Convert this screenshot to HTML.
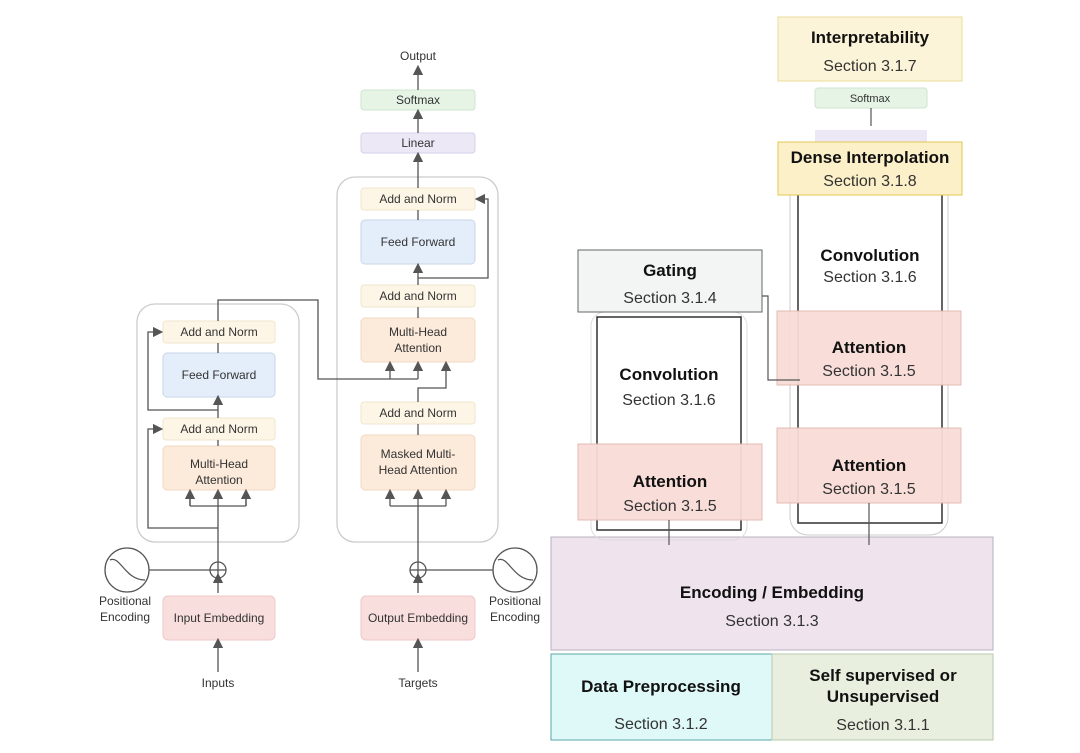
<!DOCTYPE html>
<html><head><meta charset="utf-8"><style>
html,body{margin:0;padding:0;background:#fff;}
svg{display:block;font-family:"Liberation Sans",sans-serif;}
.s{font-size:12px;fill:#333;text-anchor:middle;}
.b{font-size:17px;font-weight:bold;fill:#111;text-anchor:middle;}
.n{font-size:16px;fill:#333;text-anchor:middle;}
</style></head><body>
<svg width="1080" height="753" viewBox="0 0 1080 753">
<defs><marker id="a" markerWidth="8" markerHeight="8" refX="4" refY="4" orient="auto"><path d="M0,0 L8,4 L0,8z" fill="#555"/></marker></defs>
<g stroke="#555" stroke-width="1.3" fill="none">
<!-- encoder container -->
<rect x="137" y="304" width="162" height="238" rx="18" stroke="#ccc"/>
<rect x="337" y="177" width="161" height="365" rx="18" stroke="#ccc"/>
</g>
<!-- encoder boxes -->
<rect x="163" y="321" width="112" height="22" rx="3" fill="#fdf6e6" stroke="#f0e6cc"/>
<rect x="163" y="353" width="112" height="44" rx="4" fill="#e4eefa" stroke="#c9d6ea"/>
<rect x="163" y="418" width="112" height="22" rx="3" fill="#fdf6e6" stroke="#f0e6cc"/>
<rect x="163" y="446" width="112" height="44" rx="4" fill="#fceadb" stroke="#f2d9c2"/>
<rect x="163" y="596" width="112" height="44" rx="5" fill="#f9dede" stroke="#eec8c8"/>
<text class="s" x="219" y="336">Add and Norm</text>
<text class="s" x="219" y="379">Feed Forward</text>
<text class="s" x="219" y="433">Add and Norm</text>
<text class="s" x="219" y="468">Multi-Head</text>
<text class="s" x="219" y="484">Attention</text>
<text class="s" x="219" y="622">Input Embedding</text>
<text class="s" x="125" y="605">Positional</text>
<text class="s" x="125" y="621">Encoding</text>
<text class="s" x="218" y="687">Inputs</text>
<!-- decoder boxes -->
<rect x="361" y="90" width="114" height="20" rx="3" fill="#e6f4e6" stroke="#cfe3cf"/>
<rect x="361" y="133" width="114" height="20" rx="3" fill="#ece8f6" stroke="#d6d0ea"/>
<rect x="361" y="188" width="114" height="22" rx="3" fill="#fdf6e6" stroke="#f0e6cc"/>
<rect x="361" y="220" width="114" height="44" rx="4" fill="#e4eefa" stroke="#c9d6ea"/>
<rect x="361" y="285" width="114" height="22" rx="3" fill="#fdf6e6" stroke="#f0e6cc"/>
<rect x="361" y="318" width="114" height="44" rx="4" fill="#fceadb" stroke="#f2d9c2"/>
<rect x="361" y="402" width="114" height="22" rx="3" fill="#fdf6e6" stroke="#f0e6cc"/>
<rect x="361" y="435" width="114" height="55" rx="4" fill="#fceadb" stroke="#f2d9c2"/>
<rect x="361" y="596" width="114" height="44" rx="5" fill="#f9dede" stroke="#eec8c8"/>
<text class="s" x="418" y="60">Output</text>
<text class="s" x="418" y="104">Softmax</text>
<text class="s" x="418" y="147">Linear</text>
<text class="s" x="418" y="203">Add and Norm</text>
<text class="s" x="418" y="246">Feed Forward</text>
<text class="s" x="418" y="300">Add and Norm</text>
<text class="s" x="418" y="336">Multi-Head</text>
<text class="s" x="418" y="352">Attention</text>
<text class="s" x="418" y="417">Add and Norm</text>
<text class="s" x="418" y="458">Masked Multi-</text>
<text class="s" x="418" y="474">Head Attention</text>
<text class="s" x="418" y="622">Output Embedding</text>
<text class="s" x="515" y="605">Positional</text>
<text class="s" x="515" y="621">Encoding</text>
<text class="s" x="418" y="687">Targets</text>
<g stroke="#555" stroke-width="1.3" fill="none">
<!-- encoder lines -->
<line x1="218" y1="672" x2="218" y2="643" marker-end="url(#a)"/>
<line x1="218" y1="593" x2="218" y2="578" marker-end="url(#a)"/>
<circle cx="218" cy="570" r="8"/><line x1="210" y1="570" x2="226" y2="570"/><line x1="218" y1="562" x2="218" y2="578"/>
<circle cx="127" cy="570" r="22"/><path d="M110,560 C120,555 125,580 145,580"/>
<line x1="149" y1="570" x2="210" y2="570"/>
<line x1="218" y1="562" x2="218" y2="506"/>
<path d="M190,506 H246 M190,506 V494 M246,506 V494" /><line x1="190" y1="506" x2="190" y2="494" marker-end="url(#a)"/><line x1="218" y1="506" x2="218" y2="494" marker-end="url(#a)"/><line x1="246" y1="506" x2="246" y2="494" marker-end="url(#a)"/>
<path d="M218,528 H148 V429 H158" marker-end="url(#a)"/>
<line x1="218" y1="440" x2="218" y2="446"/>
<path d="M218,418 V410" /><line x1="218" y1="410" x2="218" y2="400" marker-end="url(#a)"/>
<path d="M218,410 H148 V332 H158" marker-end="url(#a)"/>
<line x1="218" y1="343" x2="218" y2="353"/>
<path d="M218,321 V300 H318 V379 H418"/>
<line x1="390" y1="379" x2="390" y2="366" marker-end="url(#a)"/>
<line x1="418" y1="379" x2="418" y2="366" marker-end="url(#a)"/>
<!-- decoder lines -->
<line x1="418" y1="672" x2="418" y2="643" marker-end="url(#a)"/>
<line x1="418" y1="593" x2="418" y2="578" marker-end="url(#a)"/>
<circle cx="418" cy="570" r="8"/><line x1="410" y1="570" x2="426" y2="570"/><line x1="418" y1="562" x2="418" y2="578"/>
<circle cx="515" cy="570" r="22"/><path d="M498,560 C508,555 513,580 533,580"/>
<line x1="426" y1="570" x2="493" y2="570"/>
<line x1="418" y1="562" x2="418" y2="506"/>
<path d="M390,506 H446"/><line x1="390" y1="506" x2="390" y2="494" marker-end="url(#a)"/><line x1="418" y1="506" x2="418" y2="494" marker-end="url(#a)"/><line x1="446" y1="506" x2="446" y2="494" marker-end="url(#a)"/>
<line x1="418" y1="424" x2="418" y2="435"/>
<path d="M418,402 V388 H446 V366" marker-end="url(#a)"/>
<line x1="418" y1="307" x2="418" y2="318"/>
<path d="M418,285 V278" /><line x1="418" y1="278" x2="418" y2="268" marker-end="url(#a)"/>
<path d="M418,278 H488 V199 H480" marker-end="url(#a)"/>
<line x1="418" y1="210" x2="418" y2="220"/>
<line x1="418" y1="188" x2="418" y2="157" marker-end="url(#a)"/>
<line x1="418" y1="133" x2="418" y2="114" marker-end="url(#a)"/>
<line x1="418" y1="90" x2="418" y2="70" marker-end="url(#a)"/>
</g>
<!-- right side -->
<rect x="551" y="537" width="442" height="113" fill="#efe3ee" stroke="#b9b0c0"/>
<rect x="551" y="654" width="221" height="86" fill="#dff8f8" stroke="#5aa7a7"/>
<rect x="772" y="654" width="221" height="86" fill="#e8efdf" stroke="#b9c8b0"/>
<rect x="790" y="180" width="158" height="355" rx="18" fill="none" stroke="#ccc"/>
<rect x="591" y="312" width="156" height="228" rx="14" fill="none" stroke="#ddd"/>
<rect x="815" y="88" width="112" height="20" rx="3" fill="#e6f4e6" stroke="#cfe3cf"/>
<rect x="815" y="130" width="112" height="15" fill="#ece8f6"/>
<rect x="798" y="183" width="144" height="340" fill="#fff" stroke="#222" stroke-width="1.4"/>
<rect x="597" y="317" width="144" height="213" fill="#fff" stroke="#222" stroke-width="1.4"/>
<rect x="778" y="17" width="184" height="64" fill="#fcf4d8" stroke="#e8dc98"/>
<rect x="778" y="142" width="184" height="53" fill="#fcf0c8" stroke="#e2c850"/>
<rect x="578" y="250" width="184" height="62" fill="#f3f5f5" stroke="#666"/>
<rect x="777" y="311" width="184" height="74" fill="#f8dcd8" stroke="#e2b8b0" opacity="0.95"/>
<rect x="777" y="428" width="184" height="75" fill="#f8dcd8" stroke="#e2b8b0" opacity="0.95"/>
<rect x="578" y="444" width="184" height="76" fill="#f8dcd8" stroke="#e2b8b0" opacity="0.95"/>
<g stroke="#555" stroke-width="1.2" fill="none">
<line x1="871" y1="108" x2="871" y2="126" />
<path d="M762,296 H768 V380 H800"/>
<path d="M669,520 V545 M869,503 V545"/>
</g>
<text class="b" x="870" y="43">Interpretability</text>
<text class="n" x="870" y="71">Section 3.1.7</text>
<text class="s" x="870" y="102" style="font-size:11px">Softmax</text>
<text class="b" x="870" y="163">Dense Interpolation</text>
<text class="n" x="870" y="186">Section 3.1.8</text>
<text class="b" x="870" y="261">Convolution</text>
<text class="n" x="870" y="282">Section 3.1.6</text>
<text class="b" x="869" y="353">Attention</text>
<text class="n" x="869" y="376">Section 3.1.5</text>
<text class="b" x="869" y="471">Attention</text>
<text class="n" x="869" y="494">Section 3.1.5</text>
<text class="b" x="670" y="276">Gating</text>
<text class="n" x="670" y="303">Section 3.1.4</text>
<text class="b" x="669" y="380">Convolution</text>
<text class="n" x="669" y="405">Section 3.1.6</text>
<text class="b" x="670" y="487">Attention</text>
<text class="n" x="670" y="511">Section 3.1.5</text>
<text class="b" x="772" y="598">Encoding / Embedding</text>
<text class="n" x="772" y="626">Section 3.1.3</text>
<text class="b" x="661" y="692">Data Preprocessing</text>
<text class="n" x="661" y="729">Section 3.1.2</text>
<text class="b" x="883" y="681">Self supervised or</text>
<text class="b" x="883" y="702">Unsupervised</text>
<text class="n" x="883" y="730">Section 3.1.1</text>
</svg>
</body></html>
